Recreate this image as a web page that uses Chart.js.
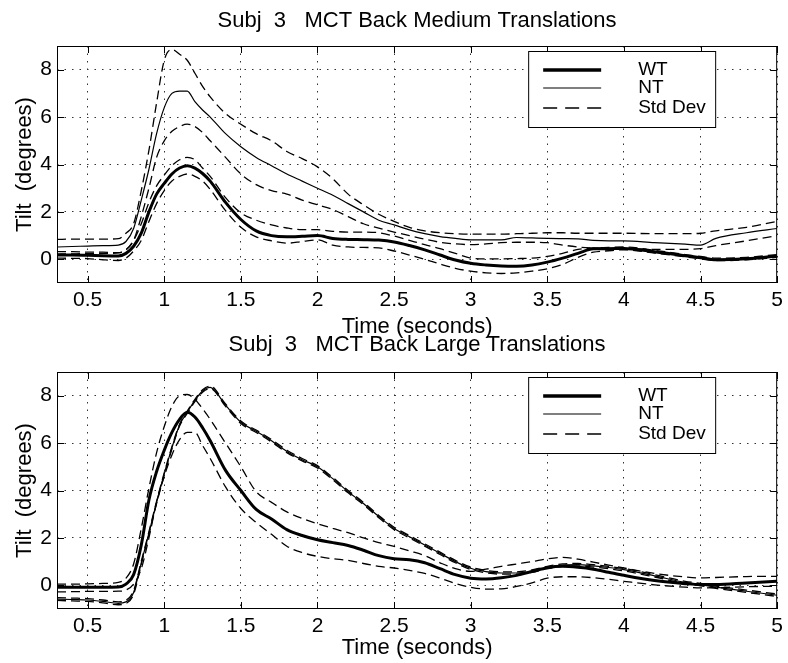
<!DOCTYPE html>
<html>
<head>
<meta charset="utf-8">
<title>Subj 3 MCT Back Translations</title>
<script src="https://cdn.jsdelivr.net/npm/chart.js@4.4.1/dist/chart.umd.min.js"></script>
<style>
  html, body { margin: 0; padding: 0; background: #fff; }
  #wrap { position: relative; width: 788px; height: 663px; overflow: hidden; }
  #c1 { position: absolute; left: 0; top: 0; }
  #c2 { position: absolute; left: 0; top: 330px; }
</style>
</head>
<body>
<div id="wrap">
  <canvas id="c1" width="788" height="340"></canvas>
  <canvas id="c2" width="788" height="333"></canvas>
</div>
<script>
// sample times (seconds), shared by both panels
const times = [0.3, 0.4, 0.5, 0.6, 0.7, 0.75, 0.8, 0.85, 0.9, 0.95, 1.0, 1.05, 1.1, 1.15, 1.2, 1.25, 1.3,
  1.4, 1.5, 1.6, 1.7, 1.8, 1.9, 2.0, 2.1, 2.2, 2.3, 2.4, 2.5, 2.6, 2.7, 2.8, 2.9, 3.0, 3.1, 3.2, 3.3, 3.4,
  3.5, 3.6, 3.7, 3.8, 3.9, 4.0, 4.2, 4.4, 4.5, 4.6, 4.8, 5.0];

const xTicks = [0.5, 1, 1.5, 2, 2.5, 3, 3.5, 4, 4.5, 5];
const yTicks = [0, 2, 4, 6, 8];
const legendLabels = ['WT', 'NT', 'Std Dev'];

// --- Medium translations (top panel) ---
const medWT = [0.18, 0.18, 0.17, 0.15, 0.14, 0.25, 0.55, 1.1, 2.0, 2.75, 3.2, 3.6, 3.85, 3.95, 3.85, 3.62, 3.3,
  2.4, 1.68, 1.2, 1.0, 0.95, 0.97, 1.0, 0.88, 0.84, 0.83, 0.81, 0.73, 0.58, 0.4, 0.18, -0.03, -0.17, -0.24, -0.28, -0.29, -0.24,
  -0.12, 0.05, 0.25, 0.44, 0.45, 0.46, 0.32, 0.15, 0.07, -0.02, 0.02, 0.14];
const medWTup = [0.32, 0.32, 0.3, 0.3, 0.28, 0.4, 0.8, 1.5, 2.4, 3.1, 3.55, 3.95, 4.2, 4.3, 4.2, 3.85, 3.5,
  2.6, 1.96, 1.65, 1.45, 1.32, 1.25, 1.25, 1.18, 1.15, 1.15, 1.12, 0.98, 0.8, 0.62, 0.45, 0.25, 0.05, 0.02, 0.02, 0.03, 0.05,
  0.12, 0.25, 0.42, 0.48, 0.5, 0.52, 0.38, 0.2, 0.12, 0.05, 0.08, 0.2];
const medWTlo = [0.05, 0.04, 0.03, -0.02, -0.05, 0.05, 0.35, 0.8, 1.6, 2.35, 2.9, 3.3, 3.5, 3.6, 3.5, 3.3, 2.95,
  2.05, 1.35, 0.95, 0.78, 0.68, 0.75, 0.82, 0.6, 0.52, 0.5, 0.48, 0.35, 0.18, 0.0, -0.2, -0.38, -0.5, -0.57, -0.6, -0.57, -0.5,
  -0.4, -0.22, 0.08, 0.3, 0.36, 0.4, 0.26, 0.1, 0.02, -0.06, -0.02, 0.08];
const medNT = [0.52, 0.54, 0.56, 0.58, 0.6, 0.75, 1.3, 2.5, 3.8, 5.3, 6.4, 7.0, 7.1, 7.1, 6.65, 6.3, 6.0,
  5.3, 4.75, 4.3, 3.95, 3.6, 3.3, 3.0, 2.7, 2.35, 2.0, 1.65, 1.45, 1.24, 1.08, 0.96, 0.88, 0.82, 0.82, 0.82, 0.92, 0.9,
  0.88, 0.87, 0.86, 0.8, 0.78, 0.78, 0.7, 0.64, 0.6, 0.88, 1.12, 1.3];
const medNTup = [0.84, 0.85, 0.85, 0.85, 0.87, 1.1, 1.5, 2.9, 4.6, 6.6, 8.4, 8.85, 8.65, 8.4, 7.85, 7.3, 6.85,
  6.15, 5.7, 5.3, 5.0, 4.55, 4.25, 3.9, 3.4, 2.75, 2.3, 1.9, 1.6, 1.35, 1.2, 1.12, 1.08, 1.06, 1.06, 1.06, 1.08, 1.1,
  1.12, 1.12, 1.1, 1.1, 1.1, 1.1, 1.08, 1.08, 1.1, 1.2, 1.35, 1.6];
const medNTlo = [0.22, 0.23, 0.24, 0.25, 0.27, 0.4, 0.8, 1.8, 3.0, 4.3, 5.0, 5.4, 5.6, 5.7, 5.6, 5.35, 5.0,
  4.3, 3.6, 3.15, 2.9, 2.75, 2.5, 2.3, 2.1, 1.8, 1.5, 1.32, 1.15, 1.0, 0.85, 0.72, 0.65, 0.62, 0.65, 0.7, 0.72, 0.72,
  0.7, 0.6, 0.52, 0.48, 0.46, 0.45, 0.42, 0.42, 0.45, 0.58, 0.78, 1.0];

// --- Large translations (bottom panel) ---
const lrgWT = [-0.08, -0.08, -0.08, -0.08, -0.07, 0.05, 0.45, 1.7, 3.6, 4.8, 5.7, 6.45, 7.0, 7.3, 7.1, 6.65, 6.1,
  4.85, 4.0, 3.2, 2.8, 2.35, 2.1, 1.92, 1.8, 1.68, 1.48, 1.25, 1.12, 1.08, 0.95, 0.7, 0.45, 0.3, 0.27, 0.32, 0.42, 0.58,
  0.74, 0.8, 0.76, 0.68, 0.55, 0.42, 0.2, 0.07, 0.03, 0.03, 0.1, 0.17];
const lrgWTup = [0.05, 0.05, 0.06, 0.08, 0.12, 0.3, 0.9, 2.4, 4.1, 5.6, 6.7, 7.55, 8.0, 8.05, 7.85, 7.45, 7.0,
  6.0, 5.0, 3.95, 3.5, 3.1, 2.82, 2.6, 2.4, 2.22, 2.0, 1.8, 1.64, 1.45, 1.25, 0.95, 0.7, 0.59, 0.68, 0.8, 0.9, 1.0,
  1.12, 1.18, 1.1, 0.98, 0.85, 0.73, 0.5, 0.35, 0.31, 0.33, 0.37, 0.38];
const lrgWTlo = [-0.28, -0.27, -0.26, -0.26, -0.25, -0.2, 0.05, 0.7, 2.0, 3.5, 4.6, 5.5, 6.15, 6.45, 6.45, 5.9, 5.35,
  4.15, 3.24, 2.65, 2.15, 1.65, 1.38, 1.22, 1.12, 1.05, 0.92, 0.8, 0.73, 0.63, 0.5, 0.3, 0.08, -0.08, -0.16, -0.15, -0.05, 0.1,
  0.3, 0.36, 0.36, 0.32, 0.25, 0.17, 0.02, -0.08, -0.11, -0.1, -0.06, -0.04];
const lrgNT = [-0.58, -0.6, -0.62, -0.68, -0.76, -0.7, -0.3, 0.95, 2.2, 3.5, 4.7, 5.8, 6.76, 7.3, 7.8, 8.2, 8.35,
  7.6, 6.88, 6.5, 6.1, 5.65, 5.3, 5.0, 4.5, 3.95, 3.45, 2.9, 2.4, 2.05, 1.7, 1.35, 1.0, 0.72, 0.58, 0.52, 0.52, 0.6,
  0.75, 0.85, 0.87, 0.82, 0.75, 0.66, 0.4, 0.12, 0.03, -0.08, -0.25, -0.42];
const lrgNTup = [-0.52, -0.54, -0.56, -0.62, -0.7, -0.63, -0.22, 1.02, 2.26, 3.55, 4.75, 5.85, 6.8, 7.35, 7.85, 8.25, 8.4,
  7.65, 6.93, 6.55, 6.15, 5.7, 5.35, 5.05, 4.55, 4.0, 3.5, 2.95, 2.45, 2.1, 1.75, 1.4, 1.05, 0.77, 0.63, 0.57, 0.57, 0.65,
  0.8, 0.9, 0.92, 0.87, 0.8, 0.71, 0.45, 0.17, 0.08, -0.03, -0.2, -0.37];
const lrgNTlo = [-0.64, -0.66, -0.68, -0.74, -0.82, -0.77, -0.38, 0.88, 2.14, 3.45, 4.65, 5.75, 6.72, 7.25, 7.75, 8.15, 8.3,
  7.55, 6.83, 6.45, 6.05, 5.6, 5.25, 4.95, 4.45, 3.9, 3.4, 2.85, 2.35, 2.0, 1.65, 1.3, 0.95, 0.67, 0.53, 0.47, 0.47, 0.55,
  0.7, 0.8, 0.82, 0.77, 0.7, 0.61, 0.35, 0.07, -0.02, -0.13, -0.3, -0.47];

const FONT = "'Liberation Sans', Arial, Helvetica, sans-serif";

function pts(vals) {
  return vals.map((v, i) => ({ x: times[i], y: v }));
}

function solid(vals, width) {
  return {
    data: pts(vals), borderColor: '#000', borderWidth: width,
    pointRadius: 0, cubicInterpolationMode: 'monotone', fill: false
  };
}

function dashed(vals) {
  return {
    data: pts(vals), borderColor: '#000', borderWidth: 1.3, borderDash: [9, 5],
    pointRadius: 0, cubicInterpolationMode: 'monotone', fill: false
  };
}

// box, inward tick marks and the in-plot legend (MATLAB style)
const matlabFrame = {
  id: 'matlabFrame',
  afterDatasetsDraw(chart) {
    const { ctx, chartArea: a, scales: { x, y } } = chart;
    ctx.save();
    ctx.strokeStyle = '#000';
    ctx.lineWidth = 1;
    ctx.setLineDash([]);
    ctx.strokeRect(a.left + 0.5, a.top + 0.5, a.right - a.left - 1, a.bottom - a.top - 1);

    ctx.beginPath();
    xTicks.forEach(v => {
      const px = Math.round(x.getPixelForValue(v)) + 0.5;
      ctx.moveTo(px, a.bottom); ctx.lineTo(px, a.bottom - 7);
      ctx.moveTo(px, a.top); ctx.lineTo(px, a.top + 7);
    });
    yTicks.forEach(v => {
      const py = Math.round(y.getPixelForValue(v)) + 0.5;
      ctx.moveTo(a.left, py); ctx.lineTo(a.left + 7, py);
      ctx.moveTo(a.right, py); ctx.lineTo(a.right - 7, py);
    });
    ctx.stroke();

    // legend
    const lx = a.right - 249, ly = a.top + 5, lw = 187, lh = 76;
    ctx.fillStyle = '#fff';
    ctx.fillRect(lx, ly, lw, lh);
    ctx.strokeRect(lx + 0.5, ly + 0.5, lw, lh);
    const rows = [ly + 19, ly + 37, ly + 57];
    const widths = [3.5, 1.2, 1.3];
    ctx.font = '19px ' + FONT;
    ctx.textBaseline = 'middle';
    ctx.fillStyle = '#000';
    rows.forEach((ry, i) => {
      ctx.beginPath();
      ctx.lineWidth = widths[i];
      ctx.setLineDash(i === 2 ? [14, 8] : []);
      ctx.moveTo(lx + 15, ry); ctx.lineTo(lx + 73, ry);
      ctx.stroke();
      ctx.setLineDash([]);
      ctx.fillText(legendLabels[i], lx + 110, ry);
    });
    ctx.restore();
  }
};

function makeChart(id, titleText, series, lay) {
  const ctx = document.getElementById(id).getContext('2d');
  return new Chart(ctx, {
    type: 'line',
    data: {
      datasets: [
        solid(series.wt, 3),
        solid(series.nt, 1.2),
        dashed(series.wtUp), dashed(series.wtLo),
        dashed(series.ntUp), dashed(series.ntLo)
      ]
    },
    options: {
      responsive: false,
      animation: false,
      layout: { padding: { left: 0, right: 7, top: 0, bottom: 0 } },
      plugins: {
        legend: { display: false },
        tooltip: { enabled: false },
        title: {
          display: true, text: titleText, color: '#000', fullSize: false,
          font: { family: FONT, size: 22, weight: 'normal' },
          padding: { top: lay.titleTop, bottom: lay.titleBottom }
        }
      },
      scales: {
        x: {
          type: 'linear', min: 0.3, max: 5,
          afterBuildTicks: s => { s.ticks = xTicks.map(v => ({ value: v })); },
          afterFit: s => { s.height = lay.xHeight; },
          ticks: {
            color: '#000', padding: 5, maxRotation: 0, autoSkip: false,
            font: { family: FONT, size: 21 },
            callback: v => String(v)
          },
          grid: { color: '#333', lineWidth: 1, drawTicks: false },
          border: { display: false, dash: [1.5, 6] },
          title: {
            display: true, text: 'Time (seconds)', color: '#000',
            font: { family: FONT, size: 22 },
            padding: { top: 0, bottom: lay.xTitleBottom }
          }
        },
        y: {
          type: 'linear', min: -1, max: 9,
          afterBuildTicks: s => { s.ticks = yTicks.map(v => ({ value: v })); },
          afterFit: s => { s.width = 57; },
          ticks: {
            color: '#000', padding: 5,
            font: { family: FONT, size: 21 }
          },
          grid: { color: '#333', lineWidth: 1, drawTicks: false },
          border: { display: false, dash: [1.5, 6] },
          title: {
            display: true, text: 'Tilt  (degrees)', color: '#000',
            font: { family: FONT, size: 22 },
            padding: { top: 12, bottom: 0 }
          }
        }
      }
    },
    plugins: [matlabFrame]
  });
}

makeChart('c1', 'Subj  3   MCT Back Medium Translations',
  { wt: medWT, nt: medNT, wtUp: medWTup, wtLo: medWTlo, ntUp: medNTup, ntLo: medNTlo },
  { titleTop: 8, titleBottom: 11.6, xHeight: 57, xTitleBottom: 0 });

makeChart('c2', 'Subj  3   MCT Back Large Translations',
  { wt: lrgWT, nt: lrgNT, wtUp: lrgWTup, wtLo: lrgWTlo, ntUp: lrgNTup, ntLo: lrgNTlo },
  { titleTop: 2, titleBottom: 13.6, xHeight: 54, xTitleBottom: 2 });
</script>
</body>
</html>
